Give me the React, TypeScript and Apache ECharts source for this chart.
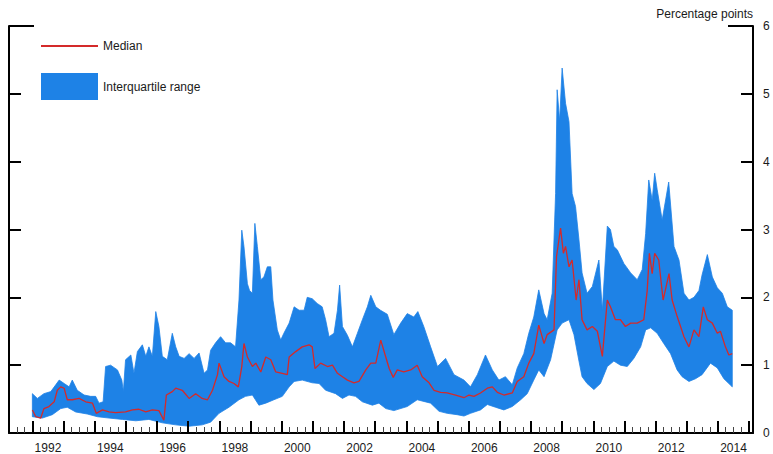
import React, { useEffect, useRef } from "react";
import * as echarts from "echarts";

// ---- data (decimal years, percentage points) ----
const upperT = [1992.00,1992.16,1992.37,1992.59,1992.75,1992.86,1993.02,1993.18,1993.28,1993.44,1993.66,1993.87,1994.03,1994.14,1994.27,1994.35,1994.51,1994.73,1994.87,1994.92,1994.99,1995.16,1995.26,1995.37,1995.53,1995.64,1995.74,1995.85,1995.96,1996.06,1996.17,1996.33,1996.49,1996.60,1996.71,1996.87,1997.03,1997.19,1997.35,1997.51,1997.62,1997.72,1997.88,1998.04,1998.20,1998.36,1998.52,1998.63,1998.72,1998.79,1998.90,1998.97,1999.06,1999.14,1999.22,1999.33,1999.43,1999.54,1999.65,1999.72,1999.86,1999.97,2000.07,2000.24,2000.40,2000.56,2000.72,2000.82,2000.98,2001.14,2001.30,2001.41,2001.52,2001.68,2001.79,2001.86,2001.95,2002.11,2002.27,2002.43,2002.59,2002.75,2002.86,2003.02,2003.17,2003.39,2003.60,2003.82,2004.03,2004.24,2004.37,2004.56,2004.78,2005.00,2005.26,2005.53,2005.85,2006.06,2006.28,2006.54,2006.76,2006.97,2007.18,2007.40,2007.56,2007.77,2007.93,2008.09,2008.25,2008.42,2008.52,2008.68,2008.79,2008.84,2008.92,2009.00,2009.11,2009.22,2009.32,2009.43,2009.54,2009.64,2009.80,2009.97,2010.18,2010.29,2010.45,2010.55,2010.66,2010.77,2010.98,2011.20,2011.41,2011.57,2011.68,2011.78,2011.89,2011.97,2012.05,2012.21,2012.42,2012.59,2012.75,2012.91,2013.07,2013.23,2013.39,2013.49,2013.66,2013.82,2013.98,2014.14,2014.30,2014.46];
const upperV = [0.58,0.51,0.58,0.61,0.71,0.78,0.73,0.68,0.78,0.63,0.56,0.54,0.54,0.44,0.46,0.98,1.00,0.93,0.78,0.61,1.08,1.15,0.88,1.20,1.30,1.13,1.27,1.13,1.79,1.57,1.13,1.08,1.47,1.27,1.13,1.10,1.17,1.10,1.18,0.88,0.93,1.22,1.33,1.42,1.33,1.33,1.27,1.96,2.99,2.75,2.20,2.10,2.06,3.09,2.75,2.26,2.30,2.45,2.45,1.96,1.52,1.37,1.47,1.62,1.86,1.81,1.81,2.00,1.98,1.91,1.86,1.67,1.42,1.47,1.81,2.18,1.57,1.44,1.27,1.47,1.67,1.86,2.03,1.86,1.81,1.75,1.45,1.62,1.76,1.71,1.79,1.57,1.27,0.98,1.10,0.86,0.78,0.68,0.86,1.15,0.93,0.78,0.83,0.71,0.96,1.17,1.47,1.71,2.11,1.76,1.67,2.06,3.53,5.06,4.60,5.38,4.86,4.59,3.53,3.34,2.85,2.36,2.06,2.16,2.55,1.81,3.05,3.00,2.75,2.70,2.50,2.36,2.26,2.41,2.94,3.73,3.43,3.83,3.59,3.14,3.70,2.75,2.55,2.06,1.96,2.00,2.10,2.33,2.63,2.30,2.14,2.06,1.86,1.81];

const lowerT = [1992.00,1992.32,1992.64,1992.91,1993.12,1993.39,1993.76,1994.09,1994.46,1994.89,1995.32,1995.74,1996.17,1996.60,1997.03,1997.45,1997.72,1997.99,1998.31,1998.63,1998.84,1999.06,1999.27,1999.49,1999.75,2000.02,2000.24,2000.40,2000.66,2000.98,2001.20,2001.41,2001.73,2001.95,2002.16,2002.37,2002.59,2002.91,2003.12,2003.34,2003.60,2004.03,2004.35,2004.78,2005.05,2005.31,2005.63,2005.85,2006.06,2006.38,2006.60,2006.86,2007.13,2007.40,2007.67,2007.88,2008.09,2008.25,2008.42,2008.63,2008.84,2009.00,2009.22,2009.38,2009.54,2009.64,2009.80,2010.02,2010.23,2010.45,2010.66,2010.87,2011.09,2011.30,2011.52,2011.68,2011.84,2012.05,2012.26,2012.48,2012.69,2012.85,2013.07,2013.28,2013.49,2013.76,2013.98,2014.19,2014.46];
const lowerV = [0.24,0.22,0.27,0.36,0.38,0.31,0.28,0.24,0.22,0.20,0.18,0.20,0.15,0.12,0.10,0.12,0.16,0.29,0.38,0.49,0.54,0.56,0.41,0.44,0.49,0.54,0.68,0.76,0.78,0.74,0.73,0.63,0.58,0.51,0.56,0.54,0.46,0.41,0.44,0.36,0.33,0.39,0.49,0.44,0.32,0.29,0.27,0.25,0.29,0.34,0.42,0.38,0.34,0.39,0.49,0.58,0.78,0.93,0.83,1.08,1.52,1.62,1.67,1.45,1.06,0.83,0.73,0.64,0.73,0.98,1.06,1.00,0.98,1.10,1.27,1.52,1.55,1.47,1.32,1.17,0.93,0.83,0.76,0.80,0.86,1.03,0.96,0.80,0.68];

const medianT = [1992.00,1992.11,1992.27,1992.37,1992.53,1992.70,1992.80,1992.91,1993.02,1993.12,1993.28,1993.50,1993.71,1993.93,1994.05,1994.25,1994.46,1994.67,1994.99,1995.21,1995.42,1995.64,1995.85,1996.06,1996.22,1996.30,1996.49,1996.60,1996.81,1997.03,1997.24,1997.45,1997.62,1997.78,1997.94,1997.99,1998.15,1998.31,1998.47,1998.61,1998.72,1998.79,1998.90,1999.06,1999.17,1999.33,1999.49,1999.65,1999.81,2000.02,2000.18,2000.24,2000.45,2000.66,2000.88,2000.98,2001.07,2001.25,2001.47,2001.63,2001.79,2001.95,2002.11,2002.32,2002.48,2002.70,2002.86,2003.02,2003.18,2003.34,2003.45,2003.58,2003.71,2003.92,2004.14,2004.35,2004.51,2004.73,2004.89,2005.10,2005.31,2005.58,2005.85,2006.01,2006.17,2006.38,2006.60,2006.76,2006.92,2007.13,2007.40,2007.56,2007.77,2007.93,2008.09,2008.25,2008.42,2008.52,2008.74,2008.82,2008.95,2009.04,2009.11,2009.22,2009.32,2009.45,2009.54,2009.64,2009.80,2009.97,2010.13,2010.29,2010.45,2010.55,2010.71,2010.87,2011.03,2011.20,2011.41,2011.62,2011.73,2011.80,2011.89,2011.97,2012.10,2012.24,2012.43,2012.53,2012.69,2012.91,2013.07,2013.23,2013.39,2013.53,2013.66,2013.82,2013.98,2014.08,2014.24,2014.35,2014.46];
const medianV = [0.34,0.24,0.22,0.36,0.39,0.46,0.63,0.68,0.66,0.49,0.49,0.51,0.46,0.44,0.29,0.34,0.31,0.30,0.31,0.34,0.35,0.31,0.34,0.33,0.19,0.56,0.61,0.66,0.63,0.51,0.58,0.51,0.49,0.63,0.86,1.03,0.83,0.76,0.73,0.68,0.98,1.32,1.12,0.98,1.03,0.90,1.12,1.08,0.90,0.88,0.86,1.12,1.20,1.27,1.30,1.27,0.95,1.03,0.98,1.00,0.88,0.83,0.78,0.74,0.76,0.93,1.03,1.03,1.37,1.12,0.95,0.82,0.93,0.90,0.93,1.00,0.83,0.74,0.63,0.60,0.59,0.56,0.52,0.56,0.54,0.59,0.66,0.68,0.60,0.56,0.59,0.76,0.83,1.03,1.17,1.59,1.32,1.45,1.52,2.60,3.02,2.65,2.75,2.45,2.55,1.96,2.26,1.67,1.52,1.57,1.50,1.13,1.96,1.86,1.67,1.67,1.57,1.62,1.62,1.67,2.10,2.65,2.35,2.65,2.55,1.96,2.35,1.96,1.72,1.42,1.27,1.52,1.42,1.86,1.67,1.62,1.47,1.50,1.27,1.15,1.17];

const xMin = 1991.25;
const xMax = 2015.125;
const yTicks = [0, 1, 2, 3, 4, 5, 6];

const BLUE = "#1e82e6";
const RED = "#d42a2a";
const FONT = "'Liberation Sans', Arial, Helvetica, sans-serif";
const TXT = "#1a1a1a";

function yearLabel(v: number): string {
  const y = Math.floor(v + 1e-9);
  const frac = v - y;
  if (Math.abs(frac - 0.5) < 1e-6 && y % 2 === 0) return String(y);
  return "";
}

export default function App() {
  const ref = useRef<HTMLDivElement>(null);
  useEffect(() => {
    if (!ref.current) return;
    const chart = echarts.init(ref.current, undefined, { renderer: "svg" });
    const zip = (t: number[], v: number[]) => t.map((x, i) => [x, v[i]]);
    const upperPts = zip(upperT, upperV);
    const lowerPts = zip(lowerT, lowerV);
    const yBase = {
      type: "value",
      min: yTicks[0],
      max: yTicks[yTicks.length - 1],
      splitLine: { show: false },
      z: 10,
    };
    chart.setOption({
      animation: false,
      textStyle: { fontFamily: FONT },
      grid: { left: 9, right: 20, top: 26, bottom: 21, containLabel: false },
      legend: [
        {
          data: [{ name: "Median", icon: "rect" }],
          left: 41,
          top: 40,
          padding: 0,
          itemWidth: 57,
          itemHeight: 2,
          selectedMode: false,
          textStyle: { fontSize: 12, color: TXT, fontFamily: FONT },
        },
        {
          data: [{ name: "Interquartile range", icon: "rect", itemStyle: { color: BLUE } }],
          left: 41,
          top: 73,
          padding: 0,
          itemWidth: 57,
          itemHeight: 27,
          selectedMode: false,
          textStyle: { fontSize: 12, color: TXT, fontFamily: FONT },
        },
      ],
      xAxis: [
        {
          type: "value",
          position: "bottom",
          min: xMin,
          max: xMax,
          interval: 0.25,
          axisLine: { show: true, lineStyle: { color: "#000", width: 2 } },
          axisTick: { show: true, inside: true, length: 6, lineStyle: { color: "#444", width: 1 } },
          axisLabel: { formatter: yearLabel, margin: 9, fontSize: 12, color: TXT, fontFamily: FONT },
          splitLine: { show: false },
          z: 10,
        },
        {
          type: "value",
          position: "bottom",
          min: xMin,
          max: xMax,
          minInterval: 1,
          maxInterval: 1,
          splitNumber: 24,
          axisLine: { show: false },
          axisTick: { show: true, inside: true, length: 12, lineStyle: { color: "#000", width: 2 } },
          axisLabel: { show: false },
          splitLine: { show: false },
          z: 10,
        },
      ],
      yAxis: [
        {
          ...yBase,
          position: "right",
          interval: 1,
          axisLine: { show: true, lineStyle: { color: "#000", width: 2 } },
          axisTick: { show: true, inside: true, length: 12, lineStyle: { color: "#000", width: 2 } },
          axisLabel: { margin: 10, fontSize: 12, color: TXT, fontFamily: FONT },
          name: "Percentage points",
          nameLocation: "end",
          nameGap: 12,
          nameTextStyle: { align: "right", verticalAlign: "middle", fontSize: 12, color: TXT, fontFamily: FONT },
        },
        {
          ...yBase,
          position: "left",
          interval: 1,
          axisLine: { show: true, lineStyle: { color: "#000", width: 2 } },
          axisTick: { show: true, inside: true, length: 12, lineStyle: { color: "#000", width: 2 } },
          axisLabel: { show: false },
        },
        {
          ...yBase,
          position: "right",
          interval: 6,
          axisLine: { show: false },
          axisTick: { show: true, inside: true, length: 25, lineStyle: { color: "#000", width: 2 } },
          axisLabel: { show: false },
        },
        {
          ...yBase,
          position: "left",
          interval: 6,
          axisLine: { show: false },
          axisTick: { show: true, inside: true, length: 25, lineStyle: { color: "#000", width: 2 } },
          axisLabel: { show: false },
        },
      ],
      series: [
        {
          name: "Interquartile range",
          type: "custom",
          xAxisIndex: 0,
          yAxisIndex: 0,
          data: [upperPts[0]],
          itemStyle: { color: BLUE },
          renderItem: (params: any, api: any) => {
            if (params.dataIndex !== 0) return null;
            const pts: number[][] = [];
            upperPts.forEach((p) => pts.push(api.coord(p)));
            for (let i = lowerPts.length - 1; i >= 0; i--) pts.push(api.coord(lowerPts[i]));
            return {
              type: "polygon",
              shape: { points: pts },
              style: { fill: BLUE, stroke: BLUE, lineWidth: 0.8 },
            };
          },
          z: 2,
        },
        {
          name: "Median",
          type: "line",
          xAxisIndex: 0,
          yAxisIndex: 0,
          data: zip(medianT, medianV),
          symbol: "none",
          lineStyle: { color: RED, width: 1.3 },
          itemStyle: { color: RED },
          z: 4,
        },
      ],
    });
    return () => chart.dispose();
  }, []);
  return (
    <div
      ref={ref}
      style={{ position: "fixed", left: 0, top: 0, width: 773, height: 454, background: "#fff" }}
    />
  );
}
